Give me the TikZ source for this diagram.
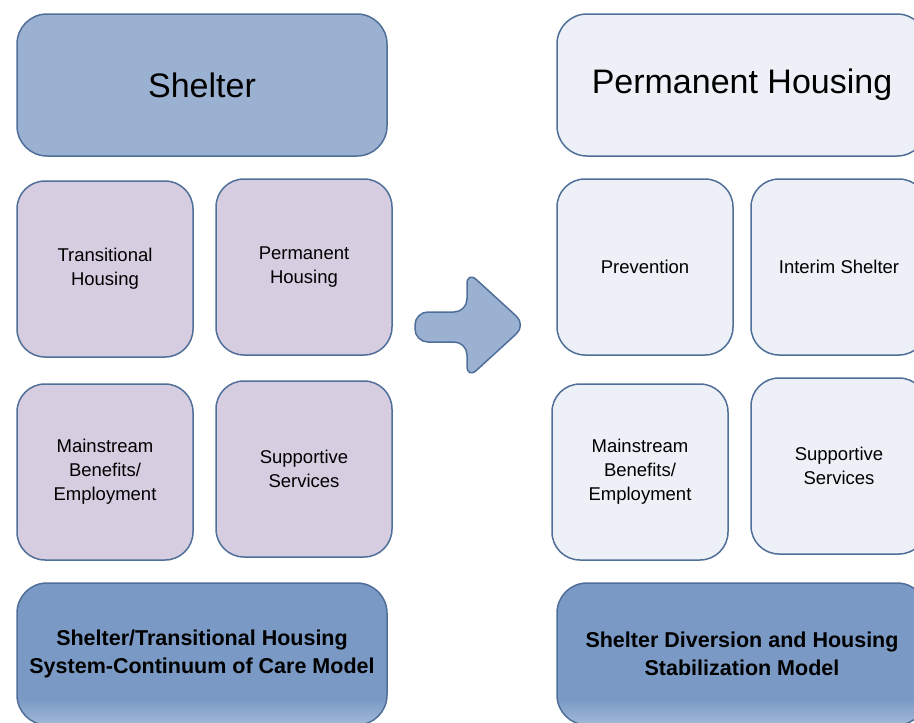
\documentclass[tikz,border=0pt]{standalone}
\usepackage{fontspec}
\setmainfont{Liberation Sans}
\usetikzlibrary{positioning}

\definecolor{edgeblue}{HTML}{4F6E98}
\definecolor{shelterblue}{HTML}{9BB1D1}
\definecolor{lavender}{HTML}{D6CDE1}
\definecolor{paleblue}{HTML}{EDF0F6}
\definecolor{modelblue}{HTML}{7A9AC5}
\definecolor{modellite}{HTML}{A3B9D8}

% lighter band along the bottom edge of the model boxes
\pgfdeclareverticalshading{modelshade}{100bp}{color(0bp)=(modellite); color(25bp)=(modellite); color(34bp)=(modelblue); color(100bp)=(modelblue)}

\tikzset{
  headbox/.style={draw=edgeblue, line width=1.5pt, rounded corners=30pt,
    minimum width=370pt, minimum height=142pt, align=center,
    font=\fontsize{34}{40}\selectfont},
  itembox/.style={draw=edgeblue, line width=1.5pt, rounded corners=28pt,
    minimum width=176pt, minimum height=176pt, align=center,
    font=\fontsize{18.5}{24}\selectfont},
  modelbox/.style={headbox, shading=modelshade,
    font=\bfseries\fontsize{21.5}{28}\selectfont},
}

\begin{document}
\begin{tikzpicture}[x=1pt,y=-1pt]
\useasboundingbox (0,0) rectangle (914,723);

% left side
\node[headbox, fill=shelterblue] (shelter) at (202,85) {Shelter};
\node[itembox, fill=lavender] (transitional) at (105,269) {Transitional\\Housing};
\node[itembox, fill=lavender] (permanent) at (304,267) {Permanent\\Housing};
\node[itembox, fill=lavender] (benefitsL) at (105,472) {Mainstream\\Benefits/\\Employment};
\node[itembox, fill=lavender] (servicesL) at (304,469) {Supportive\\Services};
\node[modelbox] (continuum) at (202,654) {Shelter/Transitional Housing\\System-Continuum of Care Model};

% right side
\node[headbox, fill=paleblue] (housing) at (742,85) {Permanent Housing};
\node[itembox, fill=paleblue] (prevention) at (645,267) {Prevention};
\node[itembox, fill=paleblue] (interim) at (839,267) {Interim Shelter};
\node[itembox, fill=paleblue] (benefitsR) at (640,472) {Mainstream\\Benefits/\\Employment};
\node[itembox, fill=paleblue] (servicesR) at (839,466) {Supportive\\Services};
\node[modelbox] (diversion) at (742,654) {Shelter Diversion and Housing\\Stabilization Model};

% block arrow between the two models
\draw[draw=edgeblue, fill=shelterblue, line width=1.5pt, rounded corners=13pt]
  (415,312) -- (467,312) -- (467,271) -- (526,325) -- (467,379)
  -- (467,342) -- (415,342) -- cycle;
\end{tikzpicture}
\end{document}
